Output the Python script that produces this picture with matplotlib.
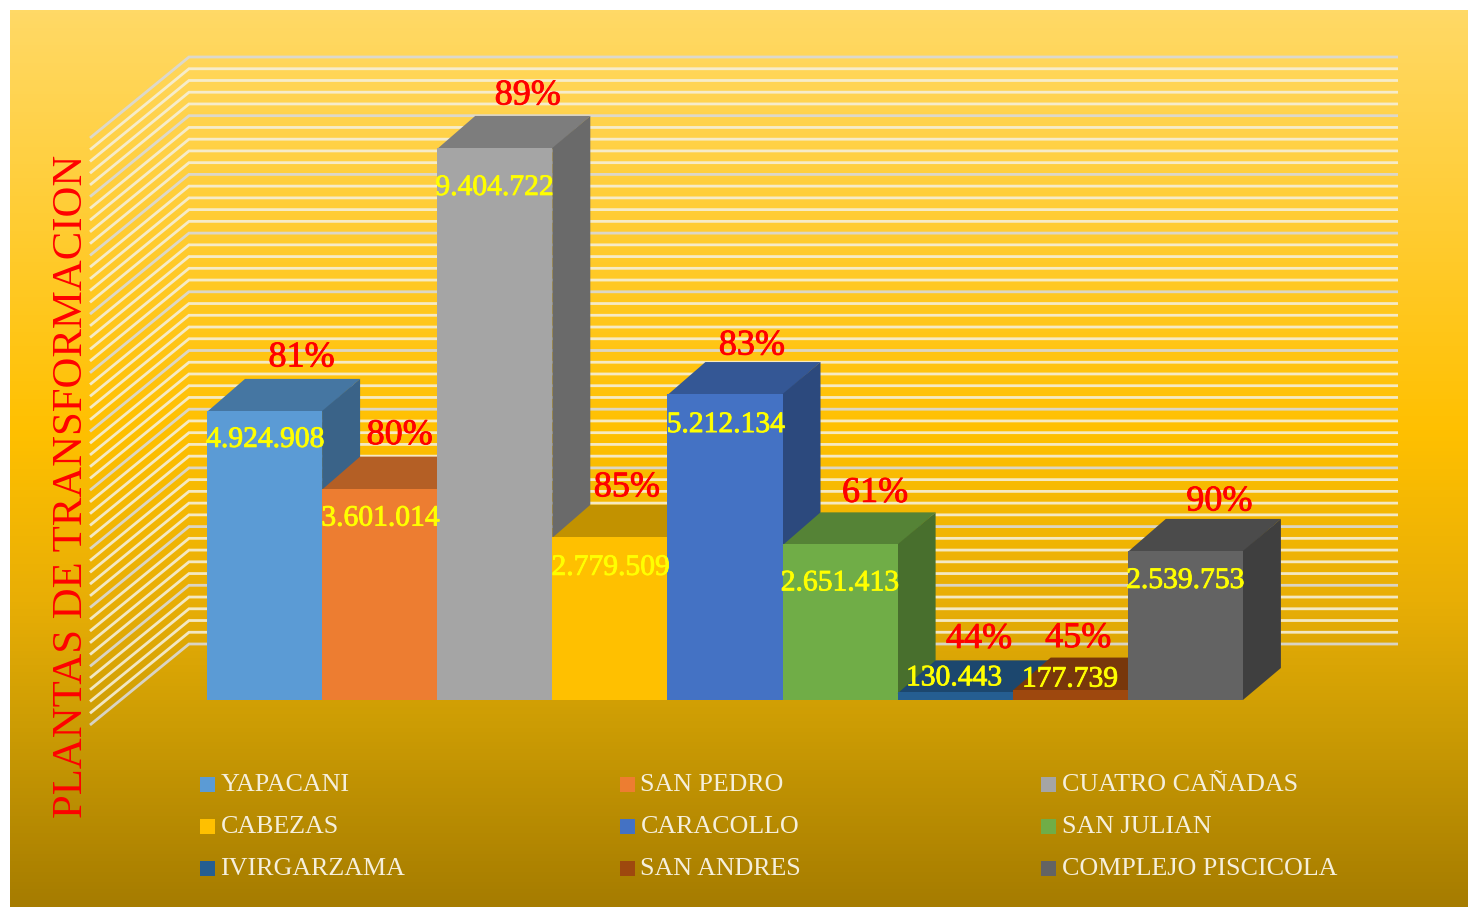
import numpy as np
import matplotlib

matplotlib.use('Agg')
import matplotlib.pyplot as plt
import matplotlib.patheffects as pe
from matplotlib.colors import LinearSegmentedColormap, to_rgb
from matplotlib.patches import Rectangle

plants = ["YAPACANI", "SAN PEDRO", "CUATRO CAÑADAS", "CABEZAS", "CARACOLLO",
          "SAN JULIAN", "IVIRGARZAMA", "SAN ANDRES", "COMPLEJO PISCICOLA"]
values = [4924908, 3601014, 9404722, 2779509, 5212134, 2651413, 130443, 177739, 2539753]
percents = [81, 80, 89, 85, 83, 61, 44, 45, 90]
colors = ["#5B9BD5", "#ED7D31", "#A5A5A5", "#FFC000", "#4472C4",
          "#70AD47", "#255E91", "#9E480E", "#636363"]
grid_ticks = np.arange(0, 10000001, 200000)

# label placement in pixels, from the bar top and the bar centre
value_dx = [1, 1, 0, 1, 1, 0, -1, 0, 0]
value_dy = [29, 30, 40, 31, 31, 39, -14, -10, 30]
pct_dx = [37, 20, 33, 17, 27, 35, 24, 8, 34]
pct_dy = [53, 53, 52, 49, 48, 51, 53, 51, 49]

W, H = 1468, 907
X0, Y0 = 207, 700       # pixel of category 0 / value 0
PX_CAT = 115.1
PX_VAL = 587 / 1e7

plt.rcParams['font.family'] = ['Liberation Serif', 'DejaVu Serif']
fig = plt.figure(figsize=(W / 100, H / 100), dpi=100, facecolor='white')
ax = fig.add_axes([0, 0, 1, 1])
ax.axis('off')


def dx(p):
    return p / PX_CAT


def dy(p):
    return p / PX_VAL


def pt(x, y):
    # pixel position of the picture to data position
    return (x - X0) / PX_CAT, (Y0 - y) / PX_VAL


# background gradient
stops = [(0.0, "#FFD966"), (0.47, "#FFC000"), (0.66, "#E8AE06"), (0.80, "#CC9C04"), (1.0, "#A67C00")]
cmap = LinearSegmentedColormap.from_list("gold", stops)
gx0, gy0 = pt(10, 907)
gx1, gy1 = pt(W, 10)
ax.imshow(np.linspace(0, 1, 256).reshape(-1, 1), cmap=cmap, aspect='auto',
          extent=(gx0, gx1, gy0, gy1), origin='upper', zorder=0)
ax.set_xlim(-X0 / PX_CAT, (W - X0) / PX_CAT)
ax.set_ylim(-(H - Y0) / PX_VAL, Y0 / PX_VAL)

# walls: gridlines run from the front edge to the back corner and along the back
wall_front, wall_base = pt(90, 725)
wall_back, wall_back_base = pt(189, 644)
wall_right, _ = pt(1398, 644)
for k, v in enumerate(grid_ticks):
    col = "#D9D9D9" if k % 5 == 0 else "#F5EFD8"
    ax.plot([wall_front, wall_back, wall_right],
            [wall_base + v, wall_back_base + v, wall_back_base + v],
            color=col, lw=2.0, alpha=0.9, zorder=1, solid_joinstyle='miter', solid_capstyle='butt')

# bars, left to right so that each one covers the side of the previous one
depth_x, depth_y = dx(38), dy(32)
for i, (v, c) in enumerate(zip(values, colors)):
    rgb = np.array(to_rgb(c))
    z = 2 + i
    under = dy(1)
    ax.fill([i, i + depth_x, i + 1 + depth_x, i + 1], [v - under, v + depth_y, v + depth_y, v - under],
            color=rgb * 0.76, lw=0, zorder=z)
    ax.fill([i + 1, i + 1 + depth_x, i + 1 + depth_x, i + 1], [0, depth_y, v + depth_y, v],
            color=rgb * 0.64, lw=0, zorder=z)
    ax.bar(i + 0.5, v, width=1, color=c, lw=0, zorder=z)

for i, v in enumerate(values):
    t = ax.annotate(f"{v:,}".replace(",", "."), (i + 0.5, v), xytext=(value_dx[i], -value_dy[i]),
                    textcoords='offset pixels', ha='center', va='center',
                    color="#FFFF00", fontsize=21.3, zorder=20)
    t.set_path_effects([pe.withStroke(linewidth=0.6, foreground="#FFFF00")])
    t = ax.annotate(f"{percents[i]}%", (i + 0.5, v), xytext=(pct_dx[i], pct_dy[i]),
                    textcoords='offset pixels', ha='center', va='center',
                    color="#FF0000", fontsize=26, zorder=20)
    t.set_path_effects([pe.withStroke(linewidth=0.6, foreground="#FF0000")])

# legend, filled row by row
legend_x = [200, 620, 1041]
legend_y = [784, 826, 868]
for i, (name, c) in enumerate(zip(plants, colors)):
    lx, ly = legend_x[i % 3], legend_y[i // 3]
    x0, y0 = pt(lx, ly + 7.5)
    ax.add_patch(Rectangle((x0, y0), dx(15), dy(15), color=c, lw=0, zorder=5))
    tx, ty = pt(lx + 20.5, ly + 1)
    ax.text(tx, ty, name, color="#F5EFDC", fontsize=18.7, ha='left', va='center', zorder=5)

tx, ty = pt(72, 486)
ax.text(tx, ty, "PLANTAS DE TRANSFORMACION", color="#FF0000", fontsize=30.8,
        rotation=90, ha='center', va='center', zorder=5)

fig.savefig("out.png", dpi=100)
